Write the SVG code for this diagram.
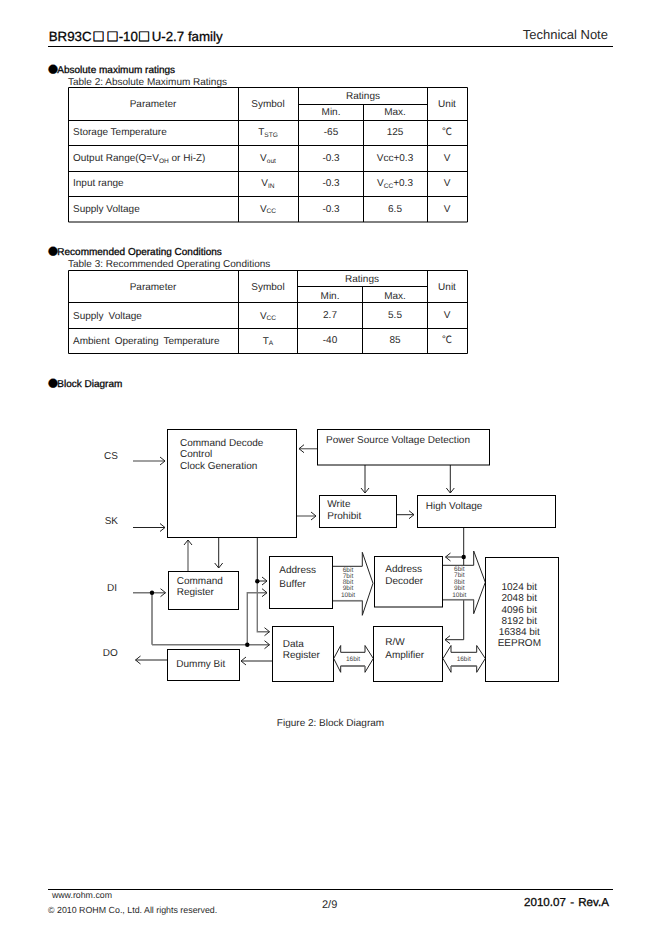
<svg xmlns="http://www.w3.org/2000/svg" width="662" height="936" viewBox="0 0 662 936">
<style>
text{font-family:"Liberation Sans",Arial,"Noto Sans CJK JP",sans-serif;font-size:10px;fill:#2a2a2a;text-rendering:geometricPrecision}
.m{text-anchor:middle}
.h{stroke:#111;stroke-width:.3px;fill:#000}
.t{font-size:13.3px}
.sq{font-family:"Noto Sans CJK JP",sans-serif;font-size:12px;fill:#000;stroke:#000;stroke-width:.5px}
.dot{font-family:"Noto Sans CJK JP",sans-serif}
.sub{font-size:6.6px}
.s{font-size:6.5px;fill:#444;text-anchor:middle}
.wide{word-spacing:2.2px}
.box{fill:#fff;stroke:#000;stroke-width:1}
.rule{stroke:#000;stroke-width:1;fill:none}
.k{fill:none;stroke:#222;stroke-width:1}
.g{fill:none;stroke:#777;stroke-width:1.4}
.ar{marker-end:url(#a)}
.big{fill:#fff;stroke:#222;stroke-width:1}
.low{fill:none;stroke:#777;stroke-width:1.5}
</style>
<defs>
<marker id="a" markerUnits="userSpaceOnUse" markerWidth="10" markerHeight="12" refX="6" refY="5" orient="auto" overflow="visible"><path d="M1,1 L6,5 L1,9" fill="none" stroke="#222" stroke-width="1"/></marker>
</defs>
<rect width="662" height="936" fill="#fff"/>
<g id="header">
<text class="t h" y="41.3"><tspan x="48.7">BR93C</tspan></text>
<text class="sq" y="41.3"><tspan x="92.5">□</tspan><tspan x="106.5">□</tspan><tspan x="138">□</tspan></text>
<text class="t h" y="41.3" x="118.7">-10</text>
<text class="t h" y="41.3" x="151.7">U-2.7 family</text>
<text x="522.7" y="39" style="font-size:13px">Technical Note</text>
<path class="rule" d="M48,46.5H613"/>
</g>
<g id="section-abs">
<text x="48" y="73" class="h dot">●</text>
<text x="57.3" y="73" class="h">Absolute maximum ratings</text>
<text x="68" y="84.5">Table 2: Absolute Maximum Ratings</text>
</g>
<g id="table2">
<path class="rule" d="M68.5,87.5H467.5V222H68.5ZM68.5,120.5H467.5M68.5,145.5H467.5M68.5,171.5H467.5M68.5,196.5H467.5M238.5,87.5V222M298.5,87.5V222M363.5,104.5V222M427.5,87.5V222M298.5,104.5H427.5"/>
<text class="m" x="153" y="107">Parameter</text><text class="m" x="268" y="107">Symbol</text><text class="m" x="363" y="99">Ratings</text><text class="m" x="331" y="115">Min.</text><text class="m" x="395" y="115">Max.</text><text class="m" x="447" y="107">Unit</text>
<text x="73" y="135">Storage Temperature</text><text class="m" x="268" y="135">T<tspan class="sub" dy="1.5">STG</tspan></text><text class="m" x="331" y="135">-65</text><text class="m" x="395" y="135">125</text><text class="m" x="447" y="135">℃</text>
<text x="73" y="161">Output Range(Q=V<tspan class="sub" dy="1.5">OH</tspan><tspan dy="-1.5"> or Hi-Z)</tspan></text><text class="m" x="268" y="161">V<tspan class="sub" dy="1.5">out</tspan></text><text class="m" x="331" y="161">-0.3</text><text class="m" x="395" y="161">Vcc+0.3</text><text class="m" x="447" y="161">V</text>
<text x="73" y="186">Input range</text><text class="m" x="268" y="186">V<tspan class="sub" dy="1.5">IN</tspan></text><text class="m" x="331" y="186">-0.3</text><text class="m" x="395" y="186">V<tspan class="sub" dy="1.5">CC</tspan><tspan dy="-1.5">+0.3</tspan></text><text class="m" x="447" y="186">V</text>
<text x="73" y="212">Supply Voltage</text><text class="m" x="268" y="212">V<tspan class="sub" dy="1">CC</tspan></text><text class="m" x="331" y="212">-0.3</text><text class="m" x="395" y="212">6.5</text><text class="m" x="447" y="212">V</text>
</g>
<g id="section-rec">
<text x="48" y="255" class="h dot">●</text>
<text x="57.3" y="255" class="h">Recommended Operating Conditions</text>
<text x="68" y="266.7">Table 3: Recommended Operating Conditions</text>
</g>
<g id="table3">
<path class="rule" d="M68.5,270.5H467.5V353.5H68.5ZM68.5,302.5H467.5M68.5,328.5H467.5M238.5,270.5V353.5M297.5,270.5V353.5M362.5,286.5V353.5M427.5,270.5V353.5M297.5,286.5H427.5"/>
<text class="m" x="153" y="290">Parameter</text><text class="m" x="268" y="290">Symbol</text><text class="m" x="362" y="282">Ratings</text><text class="m" x="330" y="298.5">Min.</text><text class="m" x="395" y="298.5">Max.</text><text class="m" x="447" y="290">Unit</text>
<text x="73" y="319" class="wide">Supply Voltage</text><text class="m" x="268" y="319">V<tspan class="sub" dy="1">CC</tspan></text><text class="m" x="330" y="318">2.7</text><text class="m" x="395" y="318">5.5</text><text class="m" x="447" y="318">V</text>
<text x="73" y="344" class="wide">Ambient Operating Temperature</text><text class="m" x="268" y="344">T<tspan class="sub" dy="1">A</tspan></text><text class="m" x="330" y="343">-40</text><text class="m" x="395" y="343">85</text><text class="m" x="447" y="343">℃</text>
</g>
<g id="section-block">
<text x="48" y="386.7" class="h dot">●</text>
<text x="57.3" y="386.7" class="h">Block Diagram</text>
</g>
<g id="pins">
<text x="104" y="459">CS</text><text x="104.7" y="524">SK</text><text x="107" y="591.3">DI</text><text x="102.7" y="656">DO</text>
</g>
<g id="connectors">
<path class="g ar" d="M133,461H165"/>
<path class="k ar" d="M133,527.5H165"/>
<path class="g ar" d="M317.5,448.7H299"/>
<path class="g ar" d="M297,516H316"/>
<path class="k ar" d="M365,465V493"/>
<path class="k ar" d="M450.3,465V493"/>
<path class="k ar" d="M397,514.7H414"/>
<path class="g ar" d="M188,571V540"/>
<path class="k ar" d="M218.7,537.5V568"/>
<path class="k" d="M257.3,537.5V581"/>
<path class="k ar" d="M257.3,581H267"/>
<path class="g ar" d="M257.3,581V631.7H269.5"/>
<path class="g ar" d="M133,592.7H165.5"/>
<path class="k" d="M152,592.7V644.7"/>
<path class="g ar" d="M152,644.7H269.5"/>
<path class="g ar" d="M247.3,644.7V592.7H267"/>
<path class="k ar" d="M272,661H241"/>
<path class="k ar" d="M167,660H135.5"/>
<path class="k ar" d="M463.7,639.7H445"/>
<path class="k" d="M463.7,527V639.7"/>
<path class="k ar" d="M463.7,557H445.5"/>
<path class="big" d="M332.7,566.3H362.3V552.3L373,583.3L362.3,615.3V600.7H332.7"/>
<path class="low" d="M332.7,600.7H362.3"/>
<path class="big" d="M442.7,565.3H473.7V551L485.3,582.3L473.7,613.7V599.7H442.7"/>
<path class="low" d="M442.7,599.7H473.7"/>
<path class="big" d="M333.7,658.5L340.7,645.5V652.3H365V645.5L373.3,658.5L365,672.3V666H340.7V672.3Z"/>
<path class="low" d="M340.7,666H365"/>
<path class="big" d="M443,658.5L451,645.5V652.3H476.7V645.5L485.3,658.5L476.7,672.3V666H451V672.3Z"/>
<path class="low" d="M451,666H476.7"/>
<circle cx="257.3" cy="581.3" r="2.2" fill="#000"/>
<circle cx="152" cy="592.7" r="2.2" fill="#000"/>
<circle cx="247.3" cy="644.7" r="2.2" fill="#000"/>
<circle cx="463.7" cy="557" r="2.2" fill="#000"/>
<text class="s" x="348" y="572">6bit</text><text class="s" x="348" y="577.5">7bit</text><text class="s" x="348" y="584">8bit</text><text class="s" x="348" y="590">9bit</text><text class="s" x="348" y="597">10bit</text>
<text class="s" x="459.3" y="571">6bit</text><text class="s" x="459.3" y="577.3">7bit</text><text class="s" x="459.3" y="584">8bit</text><text class="s" x="459.3" y="589.5">9bit</text><text class="s" x="459.3" y="597">10bit</text>
<text class="s" x="353" y="660.5">16bit</text><text class="s" x="463.7" y="660.5">16bit</text>
</g>
<g id="command-decode"><rect class="box" x="167.5" y="429.5" width="129" height="108"/><text x="180" y="446">Command Decode</text><text x="180" y="457">Control</text><text x="180" y="468.7">Clock Generation</text></g>
<g id="power-detect"><rect class="box" x="317.5" y="429.5" width="172" height="35.5"/><text x="326" y="442.7">Power Source Voltage Detection</text></g>
<g id="write-prohibit"><rect class="box" x="319.5" y="495.5" width="77" height="32"/><text x="327.3" y="506.7">Write</text><text x="327.3" y="518.7">Prohibit</text></g>
<g id="high-voltage"><rect class="box" x="417.5" y="495.5" width="138" height="32"/><text x="425.7" y="509">High Voltage</text></g>
<g id="address-buffer"><rect class="box" x="269.5" y="556.5" width="63" height="52"/><text x="279.3" y="573">Address</text><text x="279.3" y="586.7">Buffer</text></g>
<g id="address-decoder"><rect class="box" x="374.5" y="556.5" width="68" height="50.5"/><text x="385.3" y="572">Address</text><text x="385.3" y="584">Decoder</text></g>
<g id="data-register"><rect class="box" x="272.5" y="626.5" width="61" height="55"/><text x="282.7" y="646.7">Data</text><text x="282.7" y="658">Register</text></g>
<g id="rw-amplifier"><rect class="box" x="373.5" y="626.5" width="69" height="55"/><text x="385.3" y="645">R/W</text><text x="385.3" y="658">Amplifier</text></g>
<g id="eeprom"><rect class="box" x="485.5" y="557.5" width="73" height="124"/><text class="m" x="519.3" y="590">1024 bit</text><text class="m" x="519.3" y="600.7">2048 bit</text><text class="m" x="519.3" y="612.7">4096 bit</text><text class="m" x="519.3" y="624">8192 bit</text><text class="m" x="519.3" y="635">16384 bit</text><text class="m" x="519.3" y="646">EEPROM</text></g>
<g id="command-register"><rect class="box" x="168.5" y="571.5" width="70" height="38"/><text x="176.7" y="584">Command</text><text x="176.7" y="595">Register</text></g>
<g id="dummy-bit"><rect class="box" x="167.5" y="649.5" width="72" height="31"/><text x="176.3" y="667">Dummy Bit</text></g>
<text class="m" x="330.5" y="726">Figure 2: Block Diagram</text>
<g id="footer">
<path class="rule" d="M48,889.5H613"/>
<text x="51.9" y="898" style="font-size:8.8px">www.rohm.com</text>
<text x="48" y="912.5" style="font-size:8.85px">© 2010 ROHM Co., Ltd. All rights reserved.</text>
<text x="322" y="908" style="font-size:11px">2/9</text>
<text x="524" y="905.5" class="h" style="font-size:11.6px;word-spacing:1px">2010.07 - Rev.A</text>
</g>
</svg>
